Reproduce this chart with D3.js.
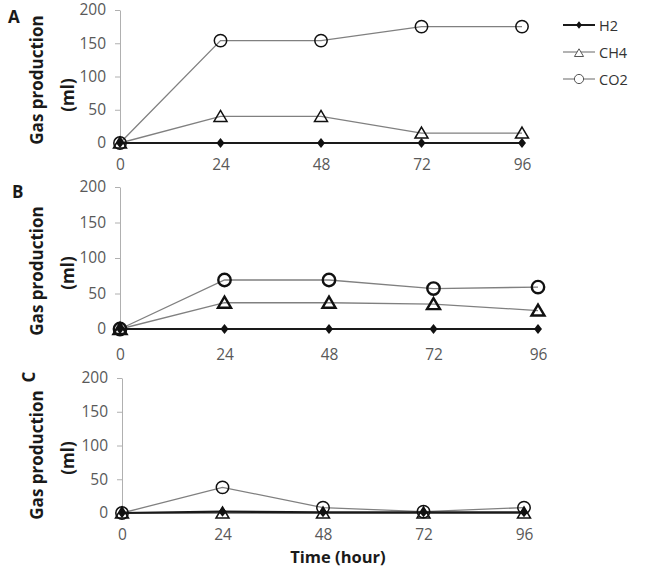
<!DOCTYPE html>
<html>
<head>
<meta charset="utf-8">
<script src="https://cdn.jsdelivr.net/npm/d3@7"></script>
<style>
  body { margin: 0; background: #fff; }
  svg { display: block; font-family: "Open Sans", "Liberation Sans", sans-serif; }
</style>
</head>
<body>
<svg id="chart" width="662" height="572"></svg>
<script>
// ---- data ----
const hours = [0, 24, 48, 72, 96];
const yTicks = [0, 50, 100, 150, 200];
const seriesNames = ["H2", "CH4", "CO2"];
const panelLabels = ["A", "B", "C"];

const aH2  = [0, 0, 0, 0, 0];
const aCH4 = [0, 40, 40, 15, 15];
const aCO2 = [0, 154, 154, 175, 175];

const bH2  = [0, 0, 0, 0, 0];
const bCH4 = [0, 37, 37, 35, 26];
const bCO2 = [0, 69, 69, 57, 59];

const cH2  = [0, 2, 1, 1, 1];
const cCH4 = [0, 0, 0, 0, 0];
const cCO2 = [0, 38, 8, 2, 8];

const panelData = [
  { H2: aH2, CH4: aCH4, CO2: aCO2 },
  { H2: bH2, CH4: bCH4, CO2: bCO2 },
  { H2: cH2, CH4: cCH4, CO2: cCO2 }
];

// ---- layout ----
const layouts = [
  { x0: 120, x1: 522, y0: 143, y1: 10,  pad: 16, mk: 1.5, lab: [8, 23, 0],
    t1: [36, 80], t2: [67, 95] },
  { x0: 120, x1: 538, y0: 329, y1: 187, pad: 20, mk: 2.4, lab: [12, 198, 0],
    t1: [36, 271], t2: [67, 273] },
  { x0: 122, x1: 524, y0: 513, y1: 378, pad: 16, mk: 1.5, lab: [28, 377, -90],
    t1: [36, 455], t2: [67, 458] }
];

const svg = d3.select("#chart");
const tickColor = "#595959";
const axisColor = "#b0b0b0";
const tickFont = "15.5px";

const triPath = s => `M0,${-6*s}L${6.5*s},${5*s}L${-6.5*s},${5*s}Z`;
const diaPath = s => `M0,${-5*s}L${4*s},0L0,${5*s}L${-4*s},0Z`;

panelData.forEach((pd, i) => {
  const L = layouts[i];
  const x = d3.scaleLinear().domain([0, 96]).range([L.x0, L.x1]);
  const y = d3.scaleLinear().domain([0, 200]).range([L.y0, L.y1]);
  const g = svg.append("g");

  // y axis
  const ya = g.append("g").attr("transform", `translate(${L.x0},0)`)
    .call(d3.axisLeft(y).tickValues(yTicks).tickSize(5).tickSizeOuter(0).tickPadding(9));
  ya.select(".domain").attr("stroke", axisColor);
  ya.selectAll(".tick line").attr("stroke", axisColor);
  ya.selectAll("text").attr("fill", tickColor).style("font-size", tickFont)
    .style("font-family", '"Open Sans", sans-serif');

  // x axis
  const xa = g.append("g").attr("transform", `translate(0,${L.y0})`)
    .call(d3.axisBottom(x).tickValues(hours).tickSize(0).tickSizeOuter(0).tickPadding(L.pad));
  xa.select(".domain").attr("stroke", axisColor);
  xa.selectAll("text").attr("fill", tickColor).style("font-size", tickFont)
    .style("font-family", '"Open Sans", sans-serif');

  // axis title
  g.append("text")
    .attr("transform", `translate(${L.t1[0]},${L.t1[1]}) rotate(-90)`)
    .attr("text-anchor", "middle").attr("dominant-baseline", "central")
    .style("font-size", "17px").style("font-weight", "bold").attr("fill", "#1a1a1a")
    .text("Gas production");
  g.append("text")
    .attr("transform", `translate(${L.t2[0]},${L.t2[1]}) rotate(-90)`)
    .attr("text-anchor", "middle").attr("dominant-baseline", "central")
    .style("font-size", "17px").style("font-weight", "bold").attr("fill", "#1a1a1a")
    .text("(ml)");

  // panel label
  g.append("text")
    .attr("transform", `translate(${L.lab[0]},${L.lab[1]}) rotate(${L.lab[2]})`)
    .attr("text-anchor", L.lab[2] ? "middle" : "start")
    .attr("dominant-baseline", L.lab[2] ? "central" : "auto")
    .style("font-size", "17px").style("font-weight", "bold").attr("fill", "#1a1a1a")
    .text(panelLabels[i]);

  const line = d3.line().x((d, j) => x(hours[j])).y(d => y(d));

  // lines (CO2, CH4 gray; H2 black)
  [["CO2", "#808080", 1.3], ["CH4", "#808080", 1.3], ["H2", "#1a1a1a", 2.2]].forEach(([k, c, w]) => {
    g.append("path").datum(pd[k]).attr("d", line)
      .attr("fill", "none").attr("stroke", c).attr("stroke-width", w);
  });

  // markers
  g.selectAll(".co2").data(pd.CO2).join("circle")
    .attr("cx", (d, j) => x(hours[j])).attr("cy", d => y(d)).attr("r", 6.2)
    .attr("fill", "none").attr("stroke", "#111").attr("stroke-width", L.mk);
  g.selectAll(".ch4").data(pd.CH4).join("path")
    .attr("transform", (d, j) => `translate(${x(hours[j])},${y(d)})`)
    .attr("d", triPath(1)).attr("fill", "none").attr("stroke", "#111")
    .attr("stroke-width", L.mk).attr("stroke-linejoin", "miter");
  g.selectAll(".h2").data(pd.H2).join("path")
    .attr("transform", (d, j) => `translate(${x(hours[j])},${y(d)})`)
    .attr("d", diaPath(1)).attr("fill", "#111");
});

// x axis title
svg.append("text").attr("x", 338).attr("y", 563).attr("text-anchor", "middle")
  .style("font-size", "16.5px").style("font-weight", "bold").attr("fill", "#1a1a1a")
  .text("Time (hour)");

// legend
const leg = svg.append("g");
const legY = [25, 52, 79];
seriesNames.forEach((n, i) => {
  const gy = legY[i];
  const lg = leg.append("g").attr("transform", `translate(0,${gy})`);
  lg.append("line").attr("x1", 563).attr("x2", 595).attr("y1", 0).attr("y2", 0)
    .attr("stroke", n === "H2" ? "#1a1a1a" : "#808080").attr("stroke-width", n === "H2" ? 2 : 1.2);
  if (n === "H2") {
    lg.append("path").attr("transform", "translate(579,0)").attr("d", diaPath(0.75)).attr("fill", "#111");
  } else if (n === "CH4") {
    lg.append("path").attr("transform", "translate(579,1)").attr("d", triPath(0.7))
      .attr("fill", "#fff").attr("stroke", "#555").attr("stroke-width", 1);
  } else {
    lg.append("circle").attr("cx", 579).attr("cy", 0).attr("r", 4.6)
      .attr("fill", "#fff").attr("stroke", "#555").attr("stroke-width", 1);
  }
  lg.append("text").attr("x", 599).attr("y", 0).attr("dominant-baseline", "central")
    .style("font-size", "14.5px").attr("fill", "#333").text(n);
});
</script>
</body>
</html>
